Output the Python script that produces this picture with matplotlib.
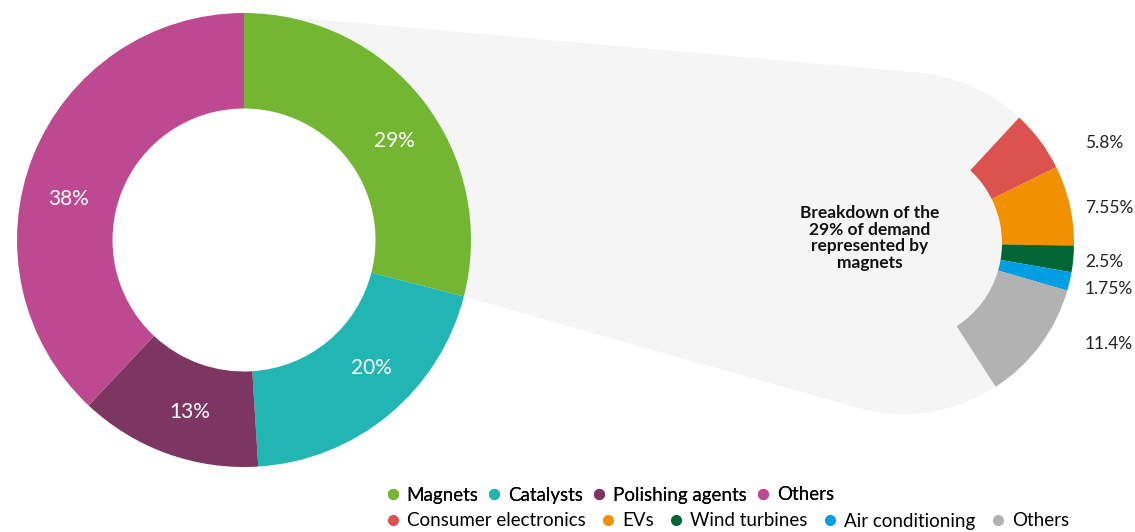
import numpy as np
import matplotlib.pyplot as plt
from matplotlib.patches import Polygon, Circle
from matplotlib.lines import Line2D

plt.rcParams['font.family'] = ['Lato', 'DejaVu Sans']

# Data
demand_labels = ['Magnets', 'Catalysts', 'Polishing agents', 'Others']
demand_values = [29, 20, 13, 38]
demand_colors = ['#72b632', '#21b5b3', '#7d3661', '#bd4990']

magnet_labels = ['Consumer electronics', 'EVs', 'Wind turbines', 'Air conditioning', 'Others']
magnet_values = [5.8, 7.55, 2.5, 1.75, 11.4]
magnet_colors = ['#dc524e', '#f29100', '#006633', '#009fe3', '#b2b2b2']

# Layout (pixel-like data coordinates, y up)
W, H = 1135, 532
c1, r1, w1 = (244, 292), 227, 95.5
c2, r2, w2 = (903, 289), 171, 72
start2 = 47.2
label_nudge1 = [-4.3, 5.2, 2.4, 8.6]      # degrees, donut label placement
label_nudge2 = [-2, -3, -3, -8, 1]        # pixels, right-hand labels


def tangent_point(p, c, r, upper):
    dx, dy = c[0] - p[0], c[1] - p[1]
    d = np.hypot(dx, dy)
    th = np.arctan2(dy, dx)
    a = np.arcsin(r / d)
    ang = th + a if upper else th - a
    L = np.sqrt(d ** 2 - r ** 2)
    return (p[0] + L * np.cos(ang), p[1] + L * np.sin(ang))


fig = plt.figure(figsize=(W / 100, H / 100), dpi=100)
ax = fig.add_axes([0, 0, 1, 1])

# grey "zoom" connector
p_top = (c1[0], c1[1] + r1)
end_ang = np.deg2rad(90 - demand_values[0] / sum(demand_values) * 360)
p_bot = (c1[0] + r1 * np.cos(end_ang), c1[1] + r1 * np.sin(end_ang))
t_top = tangent_point(p_top, c2, r2, True)
t_bot = tangent_point(p_bot, c2, r2, False)
ax.add_patch(Polygon([p_top, t_top, c2, t_bot, p_bot], closed=True,
                     facecolor='#f5f5f5', edgecolor='none', zorder=0))
ax.add_patch(Circle(c2, r2, facecolor='#f5f5f5', edgecolor='none', zorder=0))

# main donut
wedges1, _ = ax.pie(demand_values, colors=demand_colors, startangle=90, counterclock=False,
                    center=c1, radius=r1, wedgeprops=dict(width=w1, linewidth=0))
for wdg, v, nd in zip(wedges1, demand_values, label_nudge1):
    mid = np.deg2rad((wdg.theta1 + wdg.theta2) / 2 + nd)
    rr = r1 - w1 / 2 + 1
    ax.text(c1[0] + rr * np.cos(mid), c1[1] + rr * np.sin(mid), f'{v}%',
            ha='center', va='center', color='white', fontsize=15)

# magnets breakdown (partial ring)
fracs = [v / 100 for v in magnet_values]
wedges2, _ = ax.pie(fracs, colors=magnet_colors, startangle=start2, counterclock=False,
                    normalize=False, center=c2, radius=r2,
                    wedgeprops=dict(width=w2, linewidth=0))
for wdg, v, nd in zip(wedges2, magnet_values, label_nudge2):
    mid = np.deg2rad((wdg.theta1 + wdg.theta2) / 2)
    ax.text(1085, c2[1] + r2 * np.sin(mid) + nd, f'{v}%', ha='left', va='center',
            fontsize=12.5, color='#222222')

ax.text(870, 532 - 238, 'Breakdown of the\n29% of demand\nrepresented by\nmagnets',
        ha='center', va='center', fontsize=12.5, fontweight='bold', linespacing=1.05,
        color='#111111')

ax.set_xlim(0, W)
ax.set_ylim(0, H)
ax.set_aspect('equal')
ax.axis('off')

# legends
def handles(colors):
    return [Line2D([], [], marker='o', linestyle='none', markersize=8,
                   markerfacecolor=c, markeredgecolor='none') for c in colors]

leg_kw = dict(frameon=False, loc='center left', borderaxespad=0, borderpad=0,
              handlelength=0.8, handletextpad=0.35,
              prop={'family': ['Lato', 'DejaVu Sans'], 'size': 13.5})
leg1 = fig.legend(handles(demand_colors), demand_labels, ncol=4, columnspacing=0.45,
                  bbox_to_anchor=(385 / W, (H - 495) / H), **leg_kw)
fig.add_artist(leg1)
fig.legend(handles(magnet_colors), magnet_labels, ncol=5, columnspacing=0.8,
           bbox_to_anchor=(385 / W, (H - 521) / H), **leg_kw)

fig.savefig('out.png', dpi=100)
